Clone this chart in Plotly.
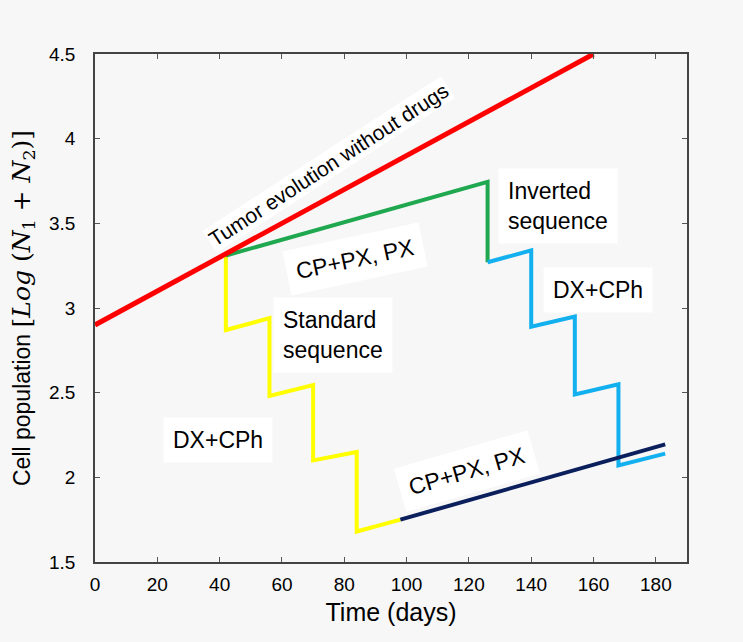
import plotly.graph_objects as go

# ---- data ----
red_x = [0, 160]
red_y = [2.90, 4.50]

std_x = [42, 42, 56, 56, 70, 70, 84, 84, 98]
std_y = [3.32, 2.87, 2.94, 2.48, 2.545, 2.10, 2.15, 1.68, 1.75]

grn_x = [42, 126, 126]
grn_y = [3.31, 3.745, 3.27]

cyan_x = [126, 140, 140, 154, 154, 168, 168, 183]
cyan_y = [3.27, 3.34, 2.89, 2.95, 2.49, 2.55, 2.07, 2.14]

navy_x = [98, 183]
navy_y = [1.75, 2.195]

x_ticks = [0, 20, 40, 60, 80, 100, 120, 140, 160, 180]
y_ticks = [1.5, 2, 2.5, 3, 3.5, 4, 4.5]
y_tick_text = ["1.5", "2", "2.5", "3", "3.5", "4", "4.5"]

BG = "#f7f7f7"
FONT = "Liberation Sans, Arial, sans-serif"

fig = go.Figure()

def label(text, x, y, angle=0, align="center", size=23, pad=9):
    fig.add_annotation(x=x, y=y, xref="x", yref="y", text=text, showarrow=False,
                       textangle=angle, align=align,
                       font=dict(family=FONT, size=size, color="black"),
                       bgcolor="white", borderpad=pad)

fig.add_trace(go.Scatter(x=std_x, y=std_y, mode="lines",
                         line=dict(color="#ffff00", width=4), hoverinfo="skip"))
fig.add_trace(go.Scatter(x=grn_x, y=grn_y, mode="lines",
                         line=dict(color="#1fa84f", width=4), hoverinfo="skip"))
fig.add_trace(go.Scatter(x=cyan_x, y=cyan_y, mode="lines",
                         line=dict(color="#12b0ee", width=4), hoverinfo="skip"))
fig.add_trace(go.Scatter(x=navy_x, y=navy_y, mode="lines",
                         line=dict(color="#0b1f5c", width=4), hoverinfo="skip"))
fig.add_trace(go.Scatter(x=red_x, y=red_y, mode="lines",
                         line=dict(color="#ff0000", width=5), hoverinfo="skip"))

label("Tumor evolution without drugs", 75.0, 3.85, -33, size=21, pad=1)
label("CP+PX, PX", 83.5, 3.29, -12)
label("Inverted<br>sequence", 148.5, 3.60, 0, "left")
label("Standard<br>sequence", 76.5, 2.84, 0, "left")
label("DX+CPh", 161.4, 3.105)
label("DX+CPh", 39.5, 2.22)
label("CP+PX, PX", 119.5, 2.035, -16)

fig.update_layout(
    width=743, height=642,
    margin=dict(l=95, r=56, t=54, b=80),
    paper_bgcolor=BG, plot_bgcolor=BG,
    showlegend=False,
    font=dict(family=FONT, size=18, color="black"),
    xaxis=dict(range=[0, 190], tickvals=x_ticks, ticks="inside", ticklen=5,
               tickcolor="#555", showline=True, linecolor="#444", linewidth=1.5,
               mirror="ticks", showgrid=False, zeroline=False,
               tickfont=dict(size=19), ticklabelstandoff=4,
               title=dict(text="Time (days)", font=dict(size=25), standoff=10)),
    yaxis=dict(range=[1.5, 4.5], tickvals=y_ticks, ticktext=y_tick_text,
               ticks="inside", ticklen=5, tickcolor="#555", showline=True,
               linecolor="#444", linewidth=1.5, mirror="ticks", showgrid=False,
               zeroline=False, tickfont=dict(size=19), ticklabelstandoff=14,
               title=dict(text="Cell population <span style='font-family:DejaVu Serif, serif; font-size:25px'>[<i>Log</i> (<i>N</i><sub>1</sub> + <i>N</i><sub>2</sub>)]</span>",
                          font=dict(size=23), standoff=12)),
)

fig.write_html("out.html")
